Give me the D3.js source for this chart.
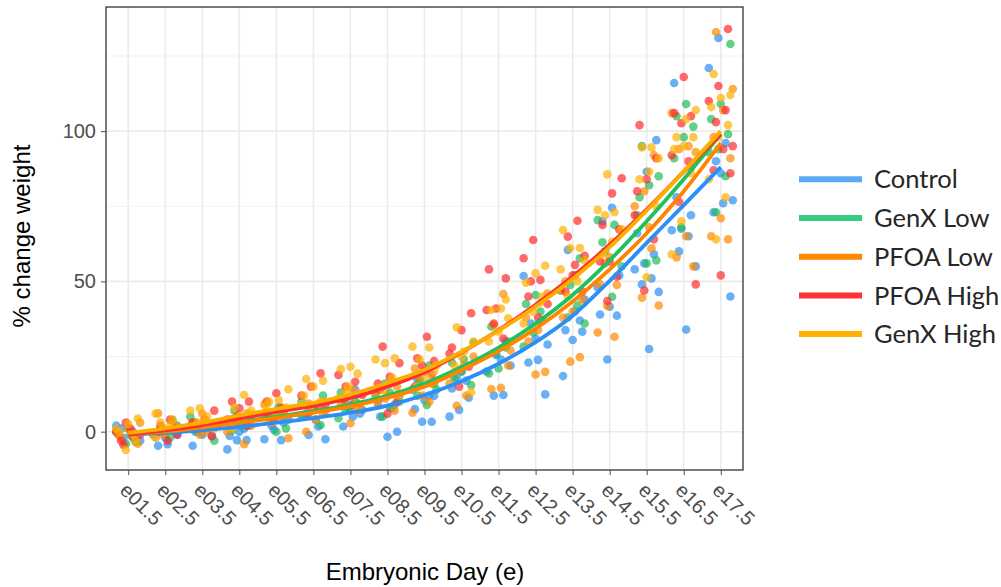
<!DOCTYPE html>
<html>
<head>
<meta charset="utf-8">
<script src="https://cdn.jsdelivr.net/npm/d3@7"></script>
<style>
  body { margin: 0; background: #fff; }
  svg { display: block; }
  .axis text { font-family: "Liberation Sans", Arial, sans-serif; font-size: 20px; fill: #4d4d4d; }
  .axis line { stroke: #4d4d4d; }
  .axis path { display: none; }
</style>
</head>
<body>
<div id="chart-area"></div>
<script>

let days = ["e01.5","e02.5","e03.5","e04.5","e05.5","e06.5","e07.5","e08.5","e09.5",
            "e10.5","e11.5","e12.5","e13.5","e14.5","e15.5","e16.5","e17.5"];

let groups = ["Control", "GenX Low", "PFOA Low", "PFOA High", "GenX High"];

// fitted (smooth) curve values, one per day
let fitControl  = [-0.8, -0.4, 0.5, 1.6, 3.0, 4.5, 6.3, 8.7, 12.2, 16.8, 22.6, 29.8, 38.6, 50.2, 62.8, 75.4, 88];
let fitGenxLow  = [-0.8, 0, 1.5, 3.2, 5, 6.8, 9, 12, 16, 21.5, 28, 36, 45.5, 57, 70, 84, 99];
let fitPfoaLow  = [-0.8, 0, 1.4, 3, 4.6, 6.3, 8.4, 11.3, 15, 20.5, 26.8, 34.3, 43.3, 54, 66, 80, 96];
let fitPfoaHigh = [-1, 0.4, 2.2, 4.4, 6.6, 8.6, 11.2, 15, 19.8, 26.4, 33.8, 42.2, 51.6, 62.2, 74, 86.5, 99];
let fitGenxHigh = [-0.4, 1.1, 3, 5.4, 7.6, 9.6, 12.4, 16.2, 20.6, 26.6, 33.6, 41.6, 50.8, 61.4, 73.6, 86.6, 100];

// individual embryo observations (% change weight), one list per day
let ptsControl = [
  [2, 0, -2, -3, -1, 1], [1, -1, -4.2, -4.7, 0, -2], [2, 0, -1.4, -1, -4.7, 1], [2, 0, -1.4, -2.8, -2.8, -5.9, 1],
  [6, 3, 0.6, -2.5, -2.8, 2, 4], [8, 5, 1.7, -1.1, -2.5, 4, 6], [14, 10, 7.2, 5, 1.7, 6, 8], [12, 8, 5, 0, -1.7, 10, 9],
  [17.4, 11.9, 10.5, 7.5, 3.3, 3.3, 14, 12], [20, 14.4, 11.3, 7.2, 5, 17, 18], [30, 25.5, 20, 12.2, 12, 22, 24],
  [51.8, 36.6, 36, 29, 23.9, 23, 12.4, 31], [60.5, 44, 40, 33.8, 33.3, 30.5, 18.5, 37],
  [74.5, 70, 52, 41.6, 39, 38.6, 24, 48], [97, 86.5, 66, 59, 56, 54, 51, 49, 46.5, 27.5],
  [116, 72, 67.5, 67, 65, 60, 55, 34, 78], [131, 121, 96, 90, 77, 76, 73, 45, 86]
];
let ptsGenxLow = [
  [1, -1, -3.3, -4, 0, -2], [3.9, 1, -1, -2, 0, 2], [5, 2, 0, -3, 1, 3], [7, 4, 2, 0.5, 5, 3],
  [8.3, 6, 1.1, 0, 5, 7], [12, 8, 5, 2.2, 7, 10], [13, 9.4, 8, 4.5, 10, 7], [16, 12, 7.8, 5, 10, 13],
  [22, 17, 14, 8.9, 12, 16], [29.6, 24, 17.8, 15.5, 20, 23], [35, 30, 21, 19.4, 28, 26],
  [45.5, 42.5, 37, 33, 28.3, 40], [57.7, 48.8, 47, 42, 38, 36, 52],
  [70.4, 68.8, 60, 55, 44.9, 63], [95, 85, 82, 78, 57, 56, 72],
  [109, 105, 101.5, 98, 91, 88, 68], [129, 109, 104, 99, 94, 93, 85, 73]
];
let ptsPfoaLow = [
  [3, 0, -2, -4, 1, -1], [6.1, 2, 0, -2, 1, -1], [6, 3, 1, -1, 2, 0], [6, 3, 0, -4.2, 4, 2],
  [9, 6, 3, -2.2, 5, 4], [9.4, 7, 4, 0, 6, 8], [14, 10, 8, 2.8, 9, 7], [15, 12, 8.9, 7, 11, 13],
  [21, 16, 12, 6.3, 10, 18], [20.5, 16, 12, 8.6, 25, 22], [45.8, 35.5, 27, 14.6, 14.2, 22],
  [46, 33.8, 30, 19.9, 19, 38], [50, 44, 40, 38, 24.8, 23.3, 47],
  [58, 49, 48.8, 41.8, 33, 31.6, 56], [92, 80, 75, 61, 44.6, 42, 68],
  [106, 95, 94, 93, 65, 58, 55], [133, 114, 107, 98, 91, 71, 65, 64]
];
let ptsPfoaHigh = [
  [3, 0, -1.7, -4.4, -1, 1, -3], [4, 2, -1, -3, 0, 1], [7, 4, 1, -1.5, 2, 3], [10, 10, 7.8, 3.9, 2, 5, 4],
  [12.8, 10, 7, 3.9, 6, 8], [19.4, 15, 12, 8, 6.1, 9], [18.9, 16.6, 15, 12.2, 9, 11], [28.3, 22.8, 18.3, 14, 10, 6, 16],
  [31.6, 24.4, 23.5, 20, 15, 19, 22], [39.4, 33.8, 28, 21.6, 15, 26], [54, 51, 41, 40.5, 31, 36],
  [63.8, 57.7, 50.5, 50, 42.5, 38, 45], [70.2, 64.9, 58.5, 55.5, 46.6, 46.6, 52],
  [84.3, 79.3, 68.8, 67.3, 56.6, 56.6, 51.6, 43.5], [102, 91, 84, 80, 64, 47, 72],
  [118, 106, 105, 102.6, 92, 90, 76.5, 49], [134, 115, 110, 107, 103, 95, 94, 87, 86, 52]
];
let ptsGenxHigh = [
  [4.4, 2.6, 0, -3, -6.1, 1, -1], [6, 4, 1, -1, 2, 3], [7.8, 7, 5, 3, 1, 4, 2], [12.2, 8, 7, 4, 1, 6, 5],
  [14.1, 10.5, 10, 8, 6, 9, 7], [17.5, 17, 15, 12, 10, 7, 9], [21.6, 20.8, 19.3, 15, 11, 9, 13], [24.4, 22.8, 24, 18, 14, 12, 16],
  [28.3, 28, 24, 22, 18, 15, 20], [34.7, 30, 26.6, 22, 13.1, 25], [41, 40.5, 37.7, 33.3, 30, 44],
  [55.2, 52.7, 49.6, 45, 39.9, 36, 43], [67.1, 61.1, 61.1, 54, 50, 45, 57],
  [85.6, 73.8, 73, 72, 67.3, 63.2, 59], [94.6, 94.6, 91, 86.5, 84, 75, 51.4],
  [107, 104, 98, 98, 95, 94, 86, 70, 59], [119, 112, 111, 108, 102, 98, 84, 78, 64]
];

let fits = [fitControl, fitGenxLow, fitPfoaLow, fitPfoaHigh, fitGenxHigh];
let pts = [ptsControl, ptsGenxLow, ptsPfoaLow, ptsPfoaHigh, ptsGenxHigh];

let pointColors  = ["#2b8ff2", "#1fbb58", "#ff8a00", "#ff2b2b", "#ffb000"];
let lineColors   = ["#2a90f5", "#1ec25c", "#ff8400", "#ff2e2e", "#ffad00"];
let legendColors = ["#5aaaf6", "#35cc80", "#ff8800", "#ff3333", "#ffb300"];

let W = 1001, H = 587;
let panel = {left: 106, top: 7, right: 743, bottom: 470};

let svg = d3.select("#chart-area").append("svg")
    .attr("width", W)
    .attr("height", H);

let x = d3.scalePoint()
    .domain(days)
    .range([panel.left, panel.right])
    .padding(0.6);

let y = d3.scaleLinear()
    .domain([-12.75, 141.3])
    .range([panel.bottom, panel.top]);

// grid
let grid = svg.append("g");
grid.selectAll(".minor")
    .data([25, 75, 125])
    .enter().append("line")
    .attr("x1", panel.left).attr("x2", panel.right)
    .attr("y1", d => y(d)).attr("y2", d => y(d))
    .attr("stroke", "#f2f2f2").attr("stroke-width", 1.2);
grid.selectAll(".major")
    .data([0, 50, 100])
    .enter().append("line")
    .attr("x1", panel.left).attr("x2", panel.right)
    .attr("y1", d => y(d)).attr("y2", d => y(d))
    .attr("stroke", "#ebebeb").attr("stroke-width", 1.6);
grid.selectAll(".vert")
    .data(days)
    .enter().append("line")
    .attr("x1", d => x(d)).attr("x2", d => x(d))
    .attr("y1", panel.top).attr("y2", panel.bottom)
    .attr("stroke", "#ebebeb").attr("stroke-width", 1.6);

// points (jittered horizontally with a fixed pattern)
let flat = [];
pts.forEach(function(series, g) {
    series.forEach(function(vals, di) {
        vals.forEach(function(v, i) {
            flat.push({g: g, day: days[di], v: v, k: i});
        });
    });
});

function jitter(d) {
    return (((d.k * 7 + d.g * 5 + days.indexOf(d.day) * 3) % 11) - 5) * 2.4;
}

svg.append("g").selectAll("circle")
    .data(flat)
    .enter().append("circle")
    .attr("cx", d => x(d.day) + jitter(d))
    .attr("cy", d => y(d.v))
    .attr("r", 4.3)
    .attr("fill", d => pointColors[d.g])
    .attr("fill-opacity", 0.7);

// fitted curves
let line = d3.line()
    .x((d, i) => x(days[i]))
    .y(d => y(d))
    .curve(d3.curveCatmullRom.alpha(0.5));

svg.append("g").selectAll("path")
    .data(fits)
    .enter().append("path")
    .attr("d", d => line(d))
    .attr("fill", "none")
    .attr("stroke", (d, i) => lineColors[i])
    .attr("stroke-width", 3.8);

// panel border
svg.append("rect")
    .attr("x", panel.left).attr("y", panel.top)
    .attr("width", panel.right - panel.left)
    .attr("height", panel.bottom - panel.top)
    .attr("fill", "none")
    .attr("stroke", "#333333")
    .attr("stroke-width", 1.3);

// axes
let yAxis = d3.axisLeft(y).tickValues([0, 50, 100]).tickSize(5).tickPadding(5);
svg.append("g")
    .attr("class", "axis")
    .attr("transform", "translate(" + panel.left + ",0)")
    .call(yAxis);

let xAxis = d3.axisBottom(x).tickSize(5);
let xg = svg.append("g")
    .attr("class", "axis")
    .attr("transform", "translate(0," + panel.bottom + ")")
    .call(xAxis);
xg.selectAll("text")
    .attr("x", 0).attr("y", 0).attr("dy", 0)
    .attr("text-anchor", "start")
    .attr("transform", "translate(-10,21.5) rotate(45)");

// axis titles
svg.append("text")
    .attr("x", (panel.left + panel.right) / 2 + 0.5)
    .attr("y", 580)
    .attr("text-anchor", "middle")
    .style("font-family", "'Liberation Sans', Arial, sans-serif")
    .style("font-size", "24px")
    .text("Embryonic Day (e)");

svg.append("text")
    .attr("transform", "translate(30,236) rotate(-90)")
    .attr("text-anchor", "middle")
    .style("font-family", "'Liberation Sans', Arial, sans-serif")
    .style("font-size", "24px")
    .text("% change weight");

// legend
let legend = svg.selectAll("g.legend")
    .data(groups)
    .enter().append("g")
    .attr("class", "legend")
    .attr("transform", (d, i) => "translate(0," + (179.3 + i * 38.7) + ")");

legend.append("line")
    .attr("x1", 799).attr("x2", 862)
    .attr("y1", 0).attr("y2", 0)
    .attr("stroke", (d, i) => legendColors[i])
    .attr("stroke-width", 6);

legend.append("text")
    .attr("x", 874)
    .attr("y", 0)
    .attr("dy", "0.36em")
    .style("font-family", "Lato, 'Open Sans', sans-serif")
    .style("font-size", "25.5px")
    .style("fill", "#262626")
    .text(d => d);

</script>
</body>
</html>
